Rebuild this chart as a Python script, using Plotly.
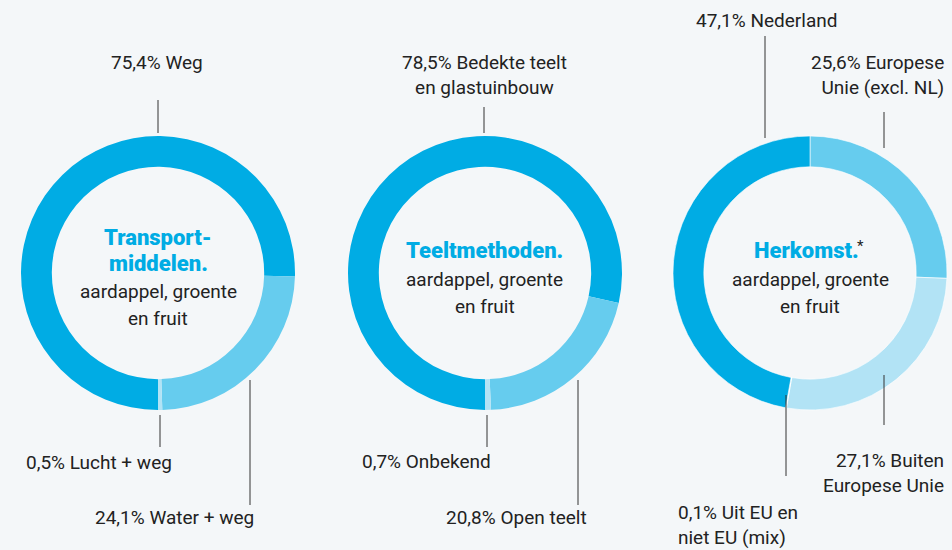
import plotly.graph_objects as go

W, H = 952, 550
BG = "#f4f7f9"
DARK = "#00ace4"
MED = "#66ccee"
LIGHT = "#b2e3f5"

# Donut 1: Transportmiddelen
transport_labels = ["Weg", "Water + weg", "Lucht + weg"]
transport_values = [75.4, 24.1, 0.5]
transport_text = ["75,4% Weg", "24,1% Water + weg", "0,5% Lucht + weg"]

# Donut 2: Teeltmethoden
teelt_labels = ["Bedekte teelt en glastuinbouw", "Open teelt", "Onbekend"]
teelt_values = [78.5, 20.8, 0.7]
teelt_text = ["78,5% Bedekte teelt<br>en glastuinbouw", "20,8% Open teelt", "0,7% Onbekend"]

# Donut 3: Herkomst
herkomst_labels = ["Europese Unie (excl. NL)", "Buiten Europese Unie", "Uit EU en niet EU (mix)", "Nederland"]
herkomst_values = [25.6, 27.1, 0.1, 47.1]
herkomst_text = ["25,6% Europese<br>Unie (excl. NL)", "27,1% Buiten<br>Europese Unie",
                 "0,1% Uit EU en<br>niet EU (mix)", "47,1% Nederland"]

FONT = "Roboto"
R = 137
CY = 273
HOLE = 0.775


def px(x):
    return x / W


def py(y):
    return 1 - y / H


def dom(cx, cy, r):
    return dict(x=[px(cx - r), px(cx + r)], y=[py(cy + r), py(cy - r)])


fig = go.Figure()

fig.add_trace(go.Pie(labels=transport_labels, values=transport_values, hole=HOLE,
                     sort=False, direction="clockwise", rotation=180,
                     marker=dict(colors=[DARK, MED, LIGHT], line=dict(width=0)),
                     textinfo="none", hoverinfo="label+percent", domain=dom(158, CY, R)))
fig.add_trace(go.Pie(labels=teelt_labels, values=teelt_values, hole=HOLE,
                     sort=False, direction="clockwise", rotation=180,
                     marker=dict(colors=[DARK, MED, LIGHT], line=dict(width=0)),
                     textinfo="none", hoverinfo="label+percent", domain=dom(485, CY, R)))
fig.add_trace(go.Pie(labels=herkomst_labels, values=herkomst_values, hole=HOLE,
                     sort=False, direction="clockwise", rotation=0,
                     marker=dict(colors=[MED, LIGHT, "#ffffff", DARK], line=dict(color="white", width=0.6)),
                     textinfo="none", hoverinfo="label+percent", domain=dom(810, CY, R)))

ann = []


def label(x, y, text, anchor="center", align="center"):
    ann.append(dict(x=px(x), y=py(y), xref="paper", yref="paper", text=text, showarrow=False,
                    xanchor=anchor, yanchor="middle", align=align,
                    font=dict(family=FONT, size=19, color="#222222")))


shapes = []


def line(x, y0, y1):
    shapes.append(dict(type="line", xref="paper", yref="paper", x0=px(x), x1=px(x), y0=py(y0), y1=py(y1),
                       line=dict(color="#333333", width=1)))


# Donut 1 labels
label(157, 63, transport_text[0])
line(158, 100, 133)
label(174, 462, transport_text[2], "right", "right")
line(160, 415, 447)
label(256, 517, transport_text[1], "right", "right")
line(250, 380, 505)

# Donut 2 labels
label(484, 75, teelt_text[0])
line(484, 107, 133)
label(493, 461, teelt_text[2], "right", "right")
line(487, 415, 447)
label(589, 517, teelt_text[1], "right", "right")
line(578, 380, 505)

# Donut 3 labels
label(766, 20, herkomst_text[3])
line(765, 36, 138)
label(946, 75, herkomst_text[0], "right", "right")
line(884, 112, 148)
label(946, 473, herkomst_text[1], "right", "right")
line(884, 375, 425)
label(676, 525, herkomst_text[2], "left", "left")
line(786, 395, 476)


def center(x, y, text, bold=False, size=19, anchor="center"):
    ann.append(dict(x=px(x), y=py(y), xref="paper", yref="paper", text=text, showarrow=False,
                    xanchor=anchor, yanchor="middle",
                    font=dict(family=FONT, size=size, color=DARK if bold else "#222222",
                              weight=900 if bold else 400)))


center(158, 237, "Transport-", True, 22)
center(158, 263, "middelen.", True, 22)
center(158, 291, "aardappel, groente")
center(158, 318, "en fruit")

center(485, 251, "Teeltmethoden.", True, 22)
center(485, 280, "aardappel, groente")
center(485, 306, "en fruit")

center(806, 251, "Herkomst.", True, 22)
center(855, 246, "*", False, 15, "left")
center(810, 280, "aardappel, groente")
center(810, 306, "en fruit")

fig.update_layout(width=W, height=H, margin=dict(l=0, r=0, t=0, b=0),
                  paper_bgcolor=BG, plot_bgcolor=BG, showlegend=False,
                  annotations=ann, shapes=shapes)

fig.write_html("out.html", config={"displayModeBar": False},
               post_script="document.body.style.margin='0';document.body.style.overflow='hidden';")
